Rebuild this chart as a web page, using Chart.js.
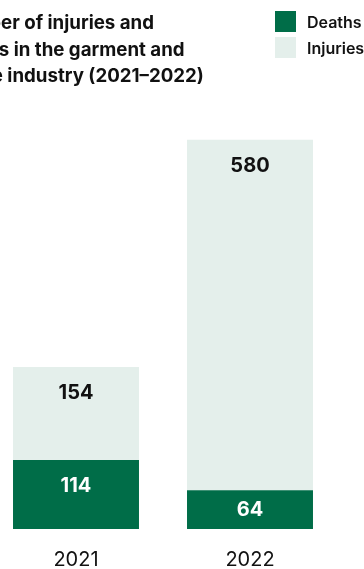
<!DOCTYPE html>
<html lang="en">
<head>
  <meta charset="UTF-8">
  <script src="https://cdn.jsdelivr.net/npm/chart.js"></script>
  <title>Injuries and deaths in the garment and textile industry</title>
  <style>
    body { margin: 0; background: #fff; font-family: Inter, sans-serif; }
    #wrap { position: relative; width: 364px; height: 569px; overflow: hidden; }
    #titulo { position: absolute; left: -50px; top: 10px; font-size: 18.7px; font-weight: 700; line-height: 26.5px; color: #111; white-space: nowrap; }
    .leg { position: absolute; left: 275px; display: flex; align-items: center; font-size: 16px; font-weight: 600; color: #111; white-space: nowrap; }
    .leg span { display: inline-block; width: 21px; height: 21px; margin-right: 11px; }
    #grafico { position: absolute; left: -11px; top: 0; }
  </style>
</head>
<body>
<div id="wrap">
  <canvas id="grafico" width="380" height="591"></canvas>
  <div id="titulo">Number of injuries and<br>deaths in the garment and<br>textile industry (2021–2022)</div>
  <div class="leg" style="top:11px"><span style="background:#006d48"></span>Deaths</div>
  <div class="leg" style="top:37px"><span style="background:#e4efeb"></span>Injuries</div>
</div>

<script>
  const anos = ['2021', '2022'];
  const mortes = [114, 64];
  const feridos = [154, 580];

  // corta o título à esquerda como no original ("Numb" fica fora)
  const medida = document.createElement('canvas').getContext('2d');
  medida.font = '700 18.7px Inter, sans-serif';
  document.getElementById('titulo').style.left = (-medida.measureText('Numb').width + 1) + 'px';

  // rótulos dentro das barras
  const rotulos = {
    id: 'rotulos',
    afterDatasetsDraw(chart) {
      const ctx = chart.ctx;
      ctx.save();
      ctx.font = '700 20px Inter, sans-serif';
      ctx.textAlign = 'center';
      ctx.textBaseline = 'middle';
      chart.data.datasets.forEach((ds, i) => {
        chart.getDatasetMeta(i).data.forEach((bar, j) => {
          const h = bar.base - bar.y;
          ctx.fillStyle = i === 0 ? '#ffffff' : '#111111';
          ctx.fillText(ds.data[j], bar.x, bar.y + Math.min(26, h / 2));
        });
      });
      ctx.restore();
    }
  };

  new Chart(document.getElementById('grafico').getContext('2d'), {
    type: 'bar',
    data: {
      labels: anos,
      datasets: [
        { label: 'Deaths', data: mortes, backgroundColor: '#006d48' },
        { label: 'Injuries', data: feridos, backgroundColor: '#e4efeb' }
      ]
    },
    options: {
      responsive: false,
      animation: false,
      layout: { padding: { top: 106, right: 32, left: 0, bottom: 0 } },
      plugins: { legend: { display: false }, tooltip: { enabled: false } },
      datasets: { bar: { categoryPercentage: 1, barPercentage: 0.724 } },
      scales: {
        x: {
          stacked: true,
          grid: { display: false, drawTicks: false },
          border: { display: false },
          ticks: { color: '#111', padding: 19, font: { family: 'Inter, sans-serif', size: 20, lineHeight: 1.2 } }
        },
        y: { stacked: true, display: false, min: 0, max: 700 }
      }
    },
    plugins: [rotulos]
  });
</script>
</body>
</html>
